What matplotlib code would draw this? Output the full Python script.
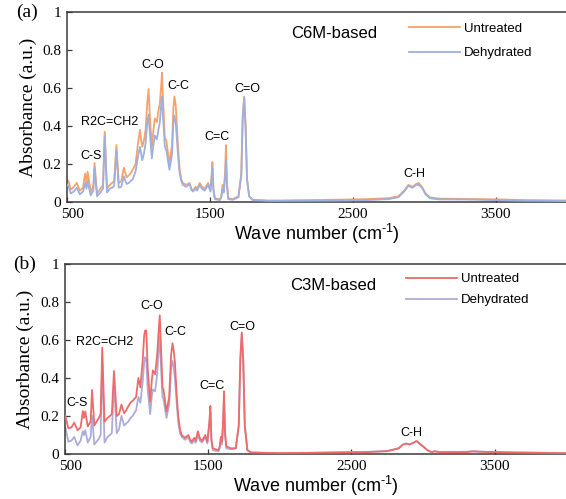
import matplotlib
matplotlib.use("Agg")
import matplotlib.pyplot as plt
from matplotlib.transforms import ScaledTranslation

# ---------------------------------------------------------------------------
# FTIR spectra, panel (a): C6M-based
# ---------------------------------------------------------------------------
wn_a = [500, 510, 526, 548, 569, 590, 612, 627, 636, 644, 666, 684, 693, 710,
        734, 752, 764, 780, 800, 815, 830, 846, 862, 880, 898, 917, 932, 945,
        960, 980, 997, 1011, 1020, 1027, 1040, 1050, 1062, 1071, 1080, 1094,
        1105, 1115, 1129, 1140, 1150, 1160, 1165, 1172, 1184, 1190, 1196, 1217,
        1235, 1245, 1252, 1262, 1275, 1287, 1300, 1311, 1334, 1358, 1370, 1382,
        1400, 1410, 1429, 1445, 1464, 1480, 1488, 1504, 1513, 1518, 1525, 1535,
        1570, 1580, 1589, 1597, 1606, 1613, 1620, 1629, 1660, 1700, 1720, 1730,
        1740, 1750, 1760, 1775, 1800, 1900, 2000, 2200, 2400, 2600, 2750, 2820,
        2860, 2890, 2918, 2945, 2961, 2985, 3010, 3040, 3100, 3300, 3500, 3700,
        4000]
untreated_a = [0.115, 0.11, 0.065, 0.08, 0.10, 0.06, 0.075, 0.15, 0.10, 0.16,
               0.055, 0.08, 0.205, 0.045, 0.07, 0.09, 0.37, 0.07, 0.09, 0.10,
               0.11, 0.30, 0.10, 0.11, 0.18, 0.13, 0.14, 0.15, 0.17, 0.20,
               0.31, 0.38, 0.32, 0.29, 0.33, 0.38, 0.52, 0.595, 0.45, 0.29,
               0.38, 0.44, 0.42, 0.48, 0.52, 0.62, 0.68, 0.55, 0.34, 0.33,
               0.32, 0.20, 0.30, 0.50, 0.555, 0.50, 0.32, 0.18, 0.12, 0.10,
               0.09, 0.10, 0.07, 0.06, 0.08, 0.07, 0.10, 0.08, 0.07, 0.09,
               0.10, 0.065, 0.15, 0.21, 0.07, 0.02, 0.013, 0.03, 0.09, 0.06,
               0.15, 0.30, 0.10, 0.02, 0.015, 0.03, 0.15, 0.45, 0.555, 0.40,
               0.12, 0.03, 0.012, 0.008, 0.008, 0.01, 0.012, 0.015, 0.02, 0.03,
               0.06, 0.09, 0.08, 0.095, 0.10, 0.08, 0.045, 0.025, 0.018, 0.016,
               0.014, 0.01, 0.008]
dehydrated_a = [0.09, 0.085, 0.045, 0.055, 0.075, 0.04, 0.055, 0.10, 0.07, 0.11,
                0.035, 0.06, 0.18, 0.03, 0.05, 0.07, 0.35, 0.05, 0.07, 0.075,
                0.085, 0.27, 0.075, 0.08, 0.135, 0.095, 0.10, 0.11, 0.12, 0.16,
                0.24, 0.29, 0.25, 0.22, 0.26, 0.31, 0.42, 0.46, 0.36, 0.23,
                0.30, 0.35, 0.33, 0.38, 0.42, 0.52, 0.555, 0.45, 0.30, 0.28,
                0.27, 0.17, 0.25, 0.42, 0.455, 0.41, 0.27, 0.16, 0.11, 0.09,
                0.08, 0.095, 0.065, 0.055, 0.07, 0.06, 0.09, 0.07, 0.06, 0.08,
                0.09, 0.055, 0.13, 0.18, 0.06, 0.015, 0.01, 0.025, 0.07, 0.05,
                0.12, 0.22, 0.08, 0.015, 0.012, 0.025, 0.14, 0.44, 0.55, 0.40,
                0.12, 0.03, 0.01, 0.006, 0.006, 0.007, 0.008, 0.01, 0.015, 0.025,
                0.055, 0.085, 0.075, 0.09, 0.09, 0.075, 0.04, 0.02, 0.014, 0.013,
                0.01, 0.007, 0.005]

# ---------------------------------------------------------------------------
# FTIR spectra, panel (b): C3M-based
# ---------------------------------------------------------------------------
wn_b = [500, 506, 527, 548, 568, 591, 612, 628, 636, 645, 662, 682, 692, 708,
        739, 752, 763, 779, 800, 817, 830, 845, 864, 880, 897, 916, 930, 944,
        960, 975, 999, 1015, 1029, 1045, 1055, 1062, 1070, 1080, 1097, 1108,
        1116, 1132, 1146, 1155, 1164, 1172, 1183, 1190, 1211, 1230, 1243, 1253,
        1262, 1270, 1283, 1293, 1305, 1317, 1340, 1364, 1375, 1387, 1405, 1415,
        1430, 1445, 1458, 1475, 1481, 1496, 1510, 1517, 1524, 1534, 1573, 1582,
        1590, 1598, 1606, 1612, 1619, 1628, 1660, 1694, 1715, 1726, 1736, 1746,
        1757, 1775, 1800, 1900, 2000, 2200, 2400, 2600, 2750, 2830, 2860, 2885,
        2905, 2935, 2955, 2975, 3000, 3030, 3060, 3080, 3120, 3300, 3350, 3400,
        3600, 4000]
untreated_b = [0.19, 0.20, 0.135, 0.14, 0.165, 0.125, 0.14, 0.226, 0.19, 0.224,
               0.145, 0.17, 0.337, 0.15, 0.19, 0.21, 0.56, 0.17, 0.19, 0.20,
               0.21, 0.437, 0.20, 0.21, 0.26, 0.215, 0.23, 0.25, 0.27, 0.28,
               0.30, 0.40, 0.35, 0.49, 0.62, 0.65, 0.65, 0.45, 0.275, 0.38,
               0.44, 0.42, 0.52, 0.63, 0.73, 0.58, 0.35, 0.34, 0.223, 0.30,
               0.52, 0.583, 0.54, 0.48, 0.30, 0.20, 0.13, 0.10, 0.085, 0.10,
               0.075, 0.065, 0.085, 0.07, 0.12, 0.08, 0.07, 0.09, 0.10, 0.065,
               0.17, 0.253, 0.08, 0.03, 0.02, 0.04, 0.09, 0.065, 0.18, 0.33,
               0.12, 0.04, 0.03, 0.03, 0.15, 0.50, 0.64, 0.50, 0.15, 0.02,
               0.008, 0.006, 0.005, 0.006, 0.008, 0.01, 0.015, 0.03, 0.05, 0.055,
               0.05, 0.06, 0.068, 0.055, 0.04, 0.02, 0.01, 0.014, 0.01, 0.01,
               0.014, 0.012, 0.008, 0.004]
dehydrated_b = [0.13, 0.14, 0.065, 0.07, 0.09, 0.045, 0.07, 0.12, 0.10, 0.125,
                0.06, 0.09, 0.20, 0.05, 0.08, 0.10, 0.50, 0.06, 0.09, 0.10,
                0.11, 0.38, 0.11, 0.13, 0.20, 0.15, 0.16, 0.17, 0.19, 0.20,
                0.23, 0.30, 0.27, 0.38, 0.48, 0.51, 0.50, 0.34, 0.21, 0.30,
                0.34, 0.33, 0.42, 0.53, 0.62, 0.48, 0.30, 0.29, 0.19, 0.26,
                0.45, 0.49, 0.45, 0.40, 0.26, 0.17, 0.11, 0.09, 0.075, 0.09,
                0.065, 0.055, 0.07, 0.06, 0.10, 0.07, 0.06, 0.08, 0.09, 0.055,
                0.15, 0.22, 0.07, 0.02, 0.015, 0.03, 0.07, 0.05, 0.15, 0.29,
                0.10, 0.03, 0.025, 0.03, 0.15, 0.50, 0.63, 0.49, 0.15, 0.02,
                0.008, 0.006, 0.005, 0.006, 0.009, 0.011, 0.015, 0.03, 0.05, 0.055,
                0.05, 0.06, 0.068, 0.055, 0.04, 0.02, 0.01, 0.014, 0.01, 0.012,
                0.014, 0.012, 0.009, 0.005]

# peak assignments: (label, wavenumber, absorbance of label centre)
peaks_a = [("C-S", 670, 0.24), ("R2C=CH2", 800, 0.42), ("C-O", 1100, 0.72),
           ("C-C", 1280, 0.61), ("C=C", 1550, 0.34), ("C=O", 1765, 0.595),
           ("C-H", 2930, 0.145)]
peaks_b = [("C-S", 585, 0.27), ("R2C=CH2", 780, 0.59), ("C-O", 1105, 0.78),
           ("C-C", 1275, 0.64), ("C=C", 1530, 0.36), ("C=O", 1740, 0.67),
           ("C-H", 2920, 0.11)]

x_ticks = [500, 1500, 2500, 3500]
y_ticks = [0, 0.2, 0.4, 0.6, 0.8, 1.0]
y_tick_labels = ["0", "0.2", "0.4", "0.6", "0.8", "1"]

SERIF = "Liberation Serif"
SANS = "Liberation Sans"
SPINE = "#3a3a3a"

# superscript in the x label uses the same sans face
plt.rcParams["mathtext.fontset"] = "custom"
plt.rcParams["mathtext.rm"] = SANS
plt.rcParams["mathtext.it"] = SANS + ":italic"


def draw_panel(ax, wn, untreated, dehydrated, c_untr, c_dehy, untr_on_top,
               title, peaks, tag, leg_anchor, leg_spacing):
    z_u, z_d = (3, 2) if untr_on_top else (2, 3)
    ax.plot(wn, untreated, color=c_untr, lw=1.3, label="Untreated", zorder=z_u)
    ax.plot(wn, dehydrated, color=c_dehy, lw=1.3, label="Dehydrated", zorder=z_d)

    ax.set_xlim(500, 4000)
    ax.set_ylim(0, 1)
    ax.set_xticks(x_ticks)
    ax.set_xticklabels([str(t) for t in x_ticks], family=SERIF, fontsize=11)
    ax.set_yticks(y_ticks)
    ax.set_yticklabels(y_tick_labels, family=SERIF, fontsize=11)
    ax.tick_params(direction="in", length=3.5, width=0.9, color=SPINE)
    ax.tick_params(axis="x", pad=4)
    ax.tick_params(axis="y", pad=4)
    # nudge the first x label off the corner
    first = ax.get_xticklabels()[0]
    first.set_transform(first.get_transform()
                        + ScaledTranslation(6 / 100, 0, ax.figure.dpi_scale_trans))
    for s in ax.spines.values():
        s.set_color(SPINE)
        s.set_linewidth(1.1)

    ax.set_xlabel("Wave number (cm$^{\u2010\\mathrm{1}}$)", family=SANS,
                  fontsize=13, labelpad=1)
    ax.set_ylabel("Absorbance (a.u.)", family=SERIF, fontsize=14, labelpad=4)

    ax.text(0.535, 0.885, title, transform=ax.transAxes, family=SANS,
            fontsize=12, ha="center", va="center")
    for label, x, y in peaks:
        ax.text(x, y, label, family=SANS, fontsize=9, ha="center", va="center")

    ax.text(-0.08, 1.0, tag, transform=ax.transAxes, family=SERIF,
            fontsize=14, ha="center", va="center")

    ax.legend(loc="upper left", bbox_to_anchor=leg_anchor, frameon=False,
              prop={"family": SANS, "size": 9.5}, handlelength=3.9,
              handletextpad=0.3, labelspacing=leg_spacing, borderpad=0,
              borderaxespad=0)


fig = plt.figure(figsize=(5.66, 4.99), dpi=100)
W, H = 566, 499
ax_a = fig.add_axes([67 / W, 1 - 202 / H, 500 / W, 190 / H])
ax_b = fig.add_axes([64.5 / W, 1 - 454 / H, 502 / W, 190 / H])

draw_panel(ax_a, wn_a, untreated_a, dehydrated_a, "#F5A36B", "#9DB0DF", False,
           "C6M-based", peaks_a, "(a)", (0.683, 0.945), 0.95)
draw_panel(ax_b, wn_b, untreated_b, dehydrated_b, "#EE6B6B", "#ACACD8", True,
           "C3M-based", peaks_b, "(b)", (0.68, 0.952), 0.65)

fig.savefig("out.png", dpi=100)
